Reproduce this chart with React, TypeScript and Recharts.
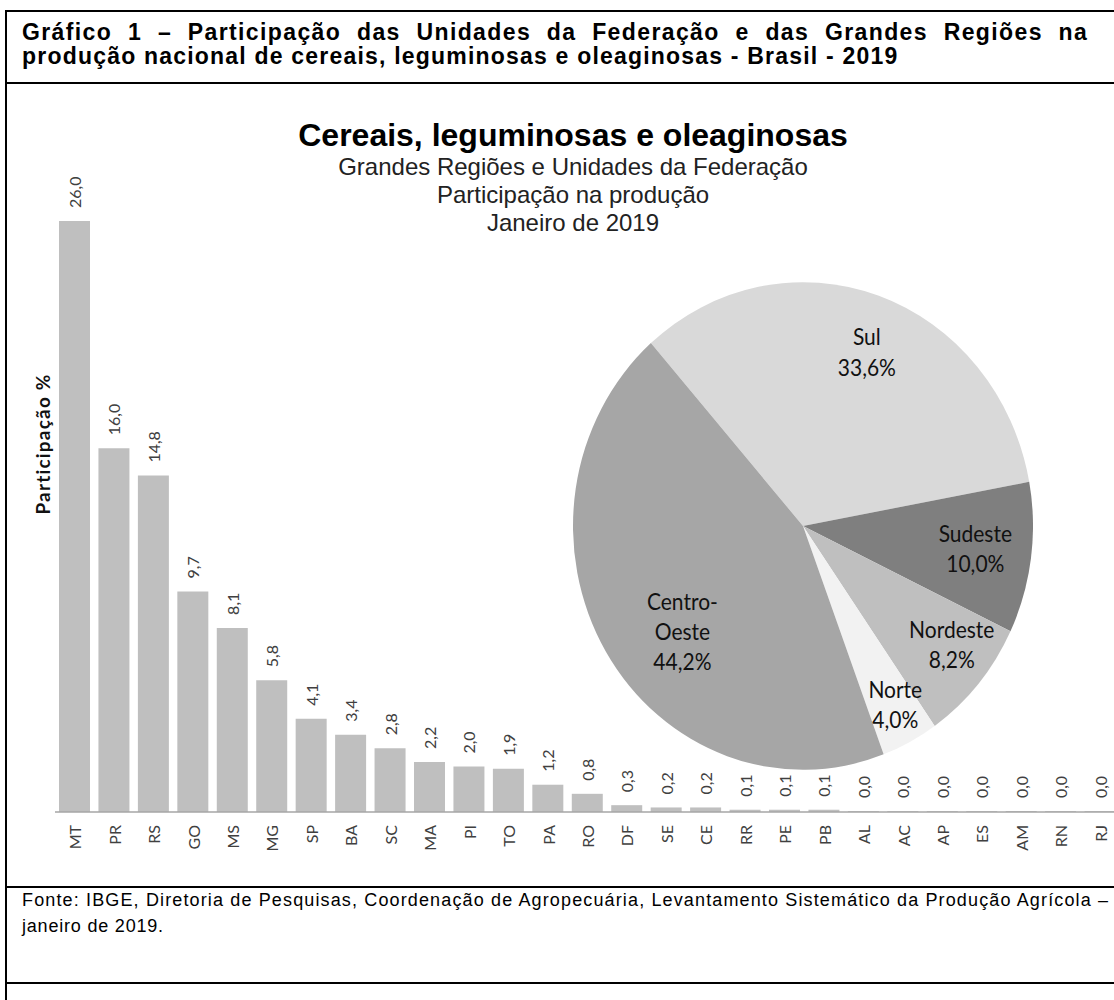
import { BarChart, Bar, XAxis, YAxis, LabelList, PieChart, Pie, Cell } from 'recharts'

// Participação por Unidade da Federação (%)
const STATES = [
  'MT', 'PR', 'RS', 'GO', 'MS', 'MG', 'SP', 'BA', 'SC', 'MA', 'PI', 'TO', 'PA', 'RO',
  'DF', 'SE', 'CE', 'RR', 'PE', 'PB', 'AL', 'AC', 'AP', 'ES', 'AM', 'RN', 'RJ',
]
const STATE_SHARES = [
  26.0, 16.0, 14.8, 9.7, 8.1, 5.8, 4.1, 3.4, 2.8, 2.2, 2.0, 1.9, 1.2, 0.8,
  0.3, 0.2, 0.2, 0.1, 0.1, 0.1, 0.04, 0.04, 0.04, 0.04, 0.04, 0.04, 0.04,
]

// Participação por Grande Região (%)
const REGIONS = ['Sul', 'Sudeste', 'Nordeste', 'Norte', 'Centro-Oeste']
const REGION_SHARES = [33.6, 10.0, 8.2, 4.0, 44.2]
const REGION_COLORS = ['#d9d9d9', '#7f7f7f', '#bfbfbf', '#f2f2f2', '#a6a6a6']

// label placement inside the slices: [radius factor, angle shift in degrees]
const LABEL_PLACE: Record<string, [number, number]> = {
  Sul: [0.765, -2.2],
  Sudeste: [0.755, 0.5],
  Nordeste: [0.81, 3.3],
  Norte: [0.835, 1],
  'Centro-Oeste': [0.68, 8.6],
}

const ARIAL = '"Liberation Sans", Arial, sans-serif'
const CALIBRI = 'Lato, "Open Sans", sans-serif'
const RAD = Math.PI / 180

const fmt = (v: number) => v.toFixed(1).replace('.', ',')

const barData = STATES.map((uf, i) => ({ uf, share: STATE_SHARES[i] }))
const pieData = REGIONS.map((name, i) => ({ name, share: REGION_SHARES[i] }))

function StateTick({ x, y, payload }: any) {
  return (
    <text
      transform={`translate(${x}, ${y + 13}) rotate(-90)`}
      textAnchor="end"
      dominantBaseline="central"
      fontFamily={CALIBRI}
      fontSize={16}
      fill="#404040"
    >
      {payload.value}
    </text>
  )
}

function ShareLabel(props: any) {
  const { x, y, width, value } = props
  return (
    <text
      transform={`translate(${Number(x) + Number(width) / 2}, ${Number(y) - 13}) rotate(-90)`}
      textAnchor="start"
      dominantBaseline="central"
      fontFamily={CALIBRI}
      fontSize={16}
      fill="#404040"
    >
      {fmt(Number(value))}
    </text>
  )
}

function RegionLabel(props: any) {
  const { cx, cy, midAngle, outerRadius, index } = props
  const name = REGIONS[index]
  const [k, shift] = LABEL_PLACE[name]
  const a = (midAngle + shift) * RAD
  const x = cx + outerRadius * k * Math.cos(-a)
  const y = cy + outerRadius * k * Math.sin(-a)
  const lines =
    name === 'Centro-Oeste'
      ? ['Centro-', 'Oeste', fmt(REGION_SHARES[index]) + '%']
      : [name, fmt(REGION_SHARES[index]) + '%']
  const lh = 28.5
  return (
    <text x={x} y={y} textAnchor="middle" dominantBaseline="central" fontFamily={CALIBRI} fontSize={21} fill="#111">
      {lines.map((l, i) => (
        <tspan key={i} x={x} dy={i === 0 ? -((lines.length - 1) / 2) * lh : lh}>
          {l}
        </tspan>
      ))}
    </text>
  )
}

const line = (left: number, top: number, width: number, height: number) => (
  <div style={{ position: 'absolute', left, top, width, height, background: '#000' }} />
)

export default function App() {
  return (
    <div style={{ position: 'absolute', left: 0, top: 0, width: 1114, height: 1000, overflow: 'hidden', background: '#fff' }}>
      {/* frame */}
      {line(5, 10, 1120, 2)}
      {line(5, 10, 2, 990)}
      {line(5, 82, 1120, 2)}
      {line(5, 886, 1120, 2)}
      {line(5, 982, 1120, 2)}

      {/* states bar chart */}
      <div style={{ position: 'absolute', left: 0, top: 0 }}>
        <BarChart
          width={1125}
          height={870}
          data={barData}
          margin={{ top: 221, right: 5, left: 55, bottom: 0 }}
          barSize={31}
        >
          <YAxis hide domain={[0, 26]} />
          <XAxis
            dataKey="uf"
            interval={0}
            height={58}
            tickSize={0}
            tickMargin={0}
            tick={<StateTick />}
            axisLine={{ stroke: '#a6a6a6', strokeWidth: 1.5 }}
            tickLine={false}
          />
          <Bar dataKey="share" fill="#bfbfbf" isAnimationActive={false}>
            <LabelList dataKey="share" content={<ShareLabel />} />
          </Bar>
        </BarChart>
      </div>

      {/* regions pie chart */}
      <div
        style={{
          position: 'absolute',
          left: 563,
          top: 286,
          width: 480,
          height: 480,
          transformOrigin: '240px 240px',
          transform: 'scale(1, 1.06)',
        }}
      >
        <PieChart width={480} height={480} margin={{ top: 0, right: 0, bottom: 0, left: 0 }}>
          <Pie
            data={pieData}
            dataKey="share"
            nameKey="name"
            cx={240}
            cy={240}
            outerRadius={230}
            startAngle={131.4}
            endAngle={-228.6}
            stroke="none"
            label={RegionLabel}
            labelLine={false}
            isAnimationActive={false}
          >
            {pieData.map((d, i) => (
              <Cell key={d.name} fill={REGION_COLORS[i]} />
            ))}
          </Pie>
        </PieChart>
      </div>

      {/* texts */}
      <svg width={1114} height={1000} style={{ position: 'absolute', left: 0, top: 0, pointerEvents: 'none' }}>
        <text
          x={22}
          y={40}
          fontFamily={ARIAL}
          fontWeight="bold"
          fontSize={23}
          textLength={1066}
          lengthAdjust="spacing"
          style={{ letterSpacing: '1.2px', wordSpacing: '8px' }}
        >
          Gráfico 1 – Participação das Unidades da Federação e das Grandes Regiões na
        </text>
        <text x={22} y={64} fontFamily={ARIAL} fontWeight="bold" fontSize={23} style={{ letterSpacing: '1.2px' }}>
          produção nacional de cereais, leguminosas e oleaginosas - Brasil - 2019
        </text>

        <text x={573} y={146} textAnchor="middle" fontFamily={ARIAL} fontWeight="bold" fontSize={32} fill="#000">
          Cereais, leguminosas e oleaginosas
        </text>
        <text x={573} y={175} textAnchor="middle" fontFamily={ARIAL} fontSize={24} fill="#222">
          Grandes Regiões e Unidades da Federação
        </text>
        <text x={573} y={203} textAnchor="middle" fontFamily={ARIAL} fontSize={24} fill="#222">
          Participação na produção
        </text>
        <text x={573} y={231} textAnchor="middle" fontFamily={ARIAL} fontSize={24} fill="#222">
          Janeiro de 2019
        </text>

        <text
          transform="translate(42, 444) rotate(-90)"
          textAnchor="middle"
          dominantBaseline="central"
          fontFamily={CALIBRI}
          fontWeight="bold"
          fontSize={19}
          fill="#111"
          style={{ letterSpacing: '1.2px' }}
        >
          Participação %
        </text>

        <text x={22} y={906} fontFamily={ARIAL} fontSize={18} textLength={1086} lengthAdjust="spacing">
          Fonte: IBGE, Diretoria de Pesquisas, Coordenação de Agropecuária, Levantamento Sistemático da Produção Agrícola –
        </text>
        <text x={22} y={932} fontFamily={ARIAL} fontSize={18} style={{ letterSpacing: '0.8px' }}>
          janeiro de 2019.
        </text>
      </svg>
    </div>
  )
}
